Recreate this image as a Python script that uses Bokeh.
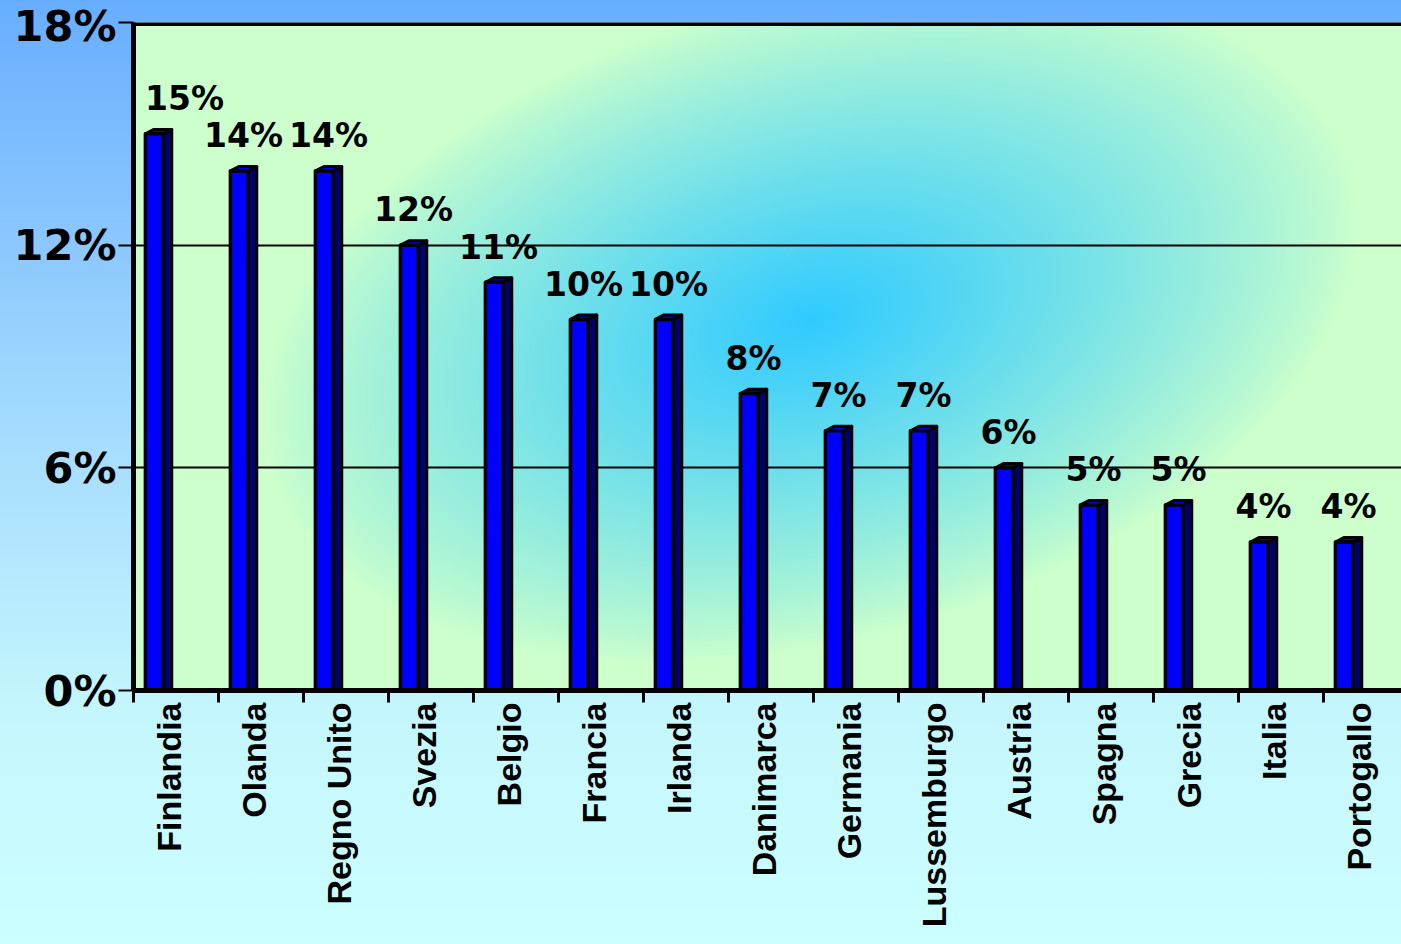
import numpy as np
from bokeh.plotting import figure
from bokeh.models import FixedTicker, CustomJSTickFormatter, Span, Range1d
from bokeh.core.properties import value
from bokeh.embed import file_html
from bokeh.resources import INLINE

# ---------------- data ----------------
countries = ["Finlandia", "Olanda", "Regno Unito", "Svezia", "Belgio", "Francia",
             "Irlanda", "Danimarca", "Germania", "Lussemburgo", "Austria", "Spagna",
             "Grecia", "Italia", "Portogallo"]
values = [15, 14, 14, 12, 11, 10, 10, 8, 7, 7, 6, 5, 5, 4, 4]
value_labels = ["15%", "14%", "14%", "12%", "11%", "10%", "10%", "8%", "7%", "7%",
                "6%", "5%", "5%", "4%", "4%"]
y_ticks = [0, 6, 12, 18]
y_tick_labels = ["0%", "6%", "12%", "18%"]

# ---------------- layout ----------------
LEFT, TOP = 133, 22
FRAME_W, FRAME_H = 1401 - LEFT, 668
PX_UNIT = 85.0
X_MAX = FRAME_W / PX_UNIT
LABEL_OFF = 0.42
GRADIENT = "linear-gradient(to bottom, #68aeff 0%, #9fd6fe 40%, #c4f6fd 75%, #ccffff 100%)"

p = figure(width=1401, height=944, output_backend="svg", toolbar_location=None,
           x_range=Range1d(0, X_MAX), y_range=Range1d(0, 18),
           min_border_left=LEFT, min_border_right=0, min_border_top=TOP,
           min_border_bottom=944 - TOP - FRAME_H)
p.border_fill_color = None
p.background_fill_color = "#ccffcc"
p.outline_line_color = None
p.styles = {"background": GRADIENT}

# ---------------- plot-area radial glow ----------------
ny, nx = FRAME_H // 2, FRAME_W // 2
jj, ii = np.meshgrid(np.arange(nx), np.arange(ny))
X = LEFT + (jj + 0.5) * (FRAME_W / nx)
Y = TOP + (ii + 0.5) * (FRAME_H / ny)
th = np.deg2rad(15)
dX, dY = X - 810, Y - 320
u = dX * np.cos(th) - dY * np.sin(th)
v = dX * np.sin(th) + dY * np.cos(th)
r = np.sqrt((u / 560.0) ** 2 + (v / 320.0) ** 2)
w = np.clip(1 - r, 0, 1) ** 0.85
inner = np.array([0x30, 0xca, 0xff], dtype=float)
outer = np.array([0xcc, 0xff, 0xcc], dtype=float)
img = np.empty((ny, nx), dtype=np.uint32)
view = img.view(dtype=np.uint8).reshape((ny, nx, 4))
for k in range(3):
    view[:, :, k] = np.round(outer[k] + (inner[k] - outer[k]) * w).astype(np.uint8)
view[:, :, 3] = 255
bg = p.image_rgba(image=[img[::-1]], x=0, y=0, dw=X_MAX, dh=18)
bg.level = "image"

# ---------------- grid / frame ----------------
p.xgrid.visible = False
p.ygrid.ticker = FixedTicker(ticks=[6, 12])
p.ygrid.grid_line_color = "black"
p.ygrid.grid_line_width = 2
p.add_layout(Span(location=18, dimension="width", line_color="black", line_width=7))

# ---------------- 3D bars ----------------
idx = np.arange(len(values))
vals = np.array(values, dtype=float)
x0 = idx + 0.14
bw, ddx, ddy = 0.21, 0.10, 0.12
side_xs = [[a + bw, a + bw + ddx, a + bw + ddx, a + bw] for a in x0]
side_ys = [[0, 0, t + ddy, t] for t in vals]
top_xs = [[a, a + bw, a + bw + ddx, a + ddx] for a in x0]
top_ys = [[t, t, t + ddy, t + ddy] for t in vals]
p.patches(xs=side_xs, ys=side_ys, fill_color="#00006e", line_color="black",
          line_width=3, line_join="round")
p.patches(xs=top_xs, ys=top_ys, fill_color="#0000e6", line_color="black",
          line_width=3, line_join="round")
p.quad(left=x0, right=x0 + bw, bottom=0, top=vals, fill_color="#0000ff",
       line_color="black", line_width=3.5, line_join="round")

# ---------------- value labels ----------------
lx = np.maximum(x0 + (bw + ddx) / 2, 0.60)
p.text(x=lx, y=vals + 0.95, text=value_labels, text_align="center",
       text_baseline="alphabetic", text_font=value("DejaVu Sans"),
       text_font_style="bold", text_font_size="33px", text_color="black")

# ---------------- axes ----------------
yax = p.yaxis[0]
yax.ticker = FixedTicker(ticks=y_ticks)
yax.major_label_overrides = dict(zip(y_ticks, y_tick_labels))
yax.axis_line_width = 5
yax.axis_line_color = "black"
yax.major_tick_out = 15
yax.major_tick_in = 0
yax.major_tick_line_width = 2
yax.minor_tick_out = 0
yax.minor_tick_in = 0
yax.major_label_standoff = 2
yax.major_label_text_font = "DejaVu Sans"
yax.major_label_text_font_style = "bold"
yax.major_label_text_font_size = "43px"
yax.major_label_text_color = "black"

xax = p.xaxis[0]
xax.ticker = FixedTicker(ticks=list(idx + LABEL_OFF), minor_ticks=list(range(len(values) + 1)))
xax.formatter = CustomJSTickFormatter(args=dict(names=countries, off=LABEL_OFF),
                                      code="const i = Math.round(tick - off); return names[i] || '';")
xax.axis_line_width = 5
xax.axis_line_color = "black"
xax.major_tick_out = 0
xax.major_tick_in = 0
xax.minor_tick_out = 12
xax.minor_tick_in = 0
xax.minor_tick_line_width = 3
xax.minor_tick_line_color = "black"
xax.major_label_orientation = np.pi / 2
xax.major_label_standoff = 0
xax.major_label_text_font = "Liberation Sans"
xax.major_label_text_font_style = "bold"
xax.major_label_text_font_size = "34px"
xax.major_label_text_color = "black"

html = file_html(p, INLINE, title="Chart")
html = html.replace("</head>", "<style>html, body { background: " + GRADIENT + "; }</style></head>", 1)
open("out.html", "w").write(html)
